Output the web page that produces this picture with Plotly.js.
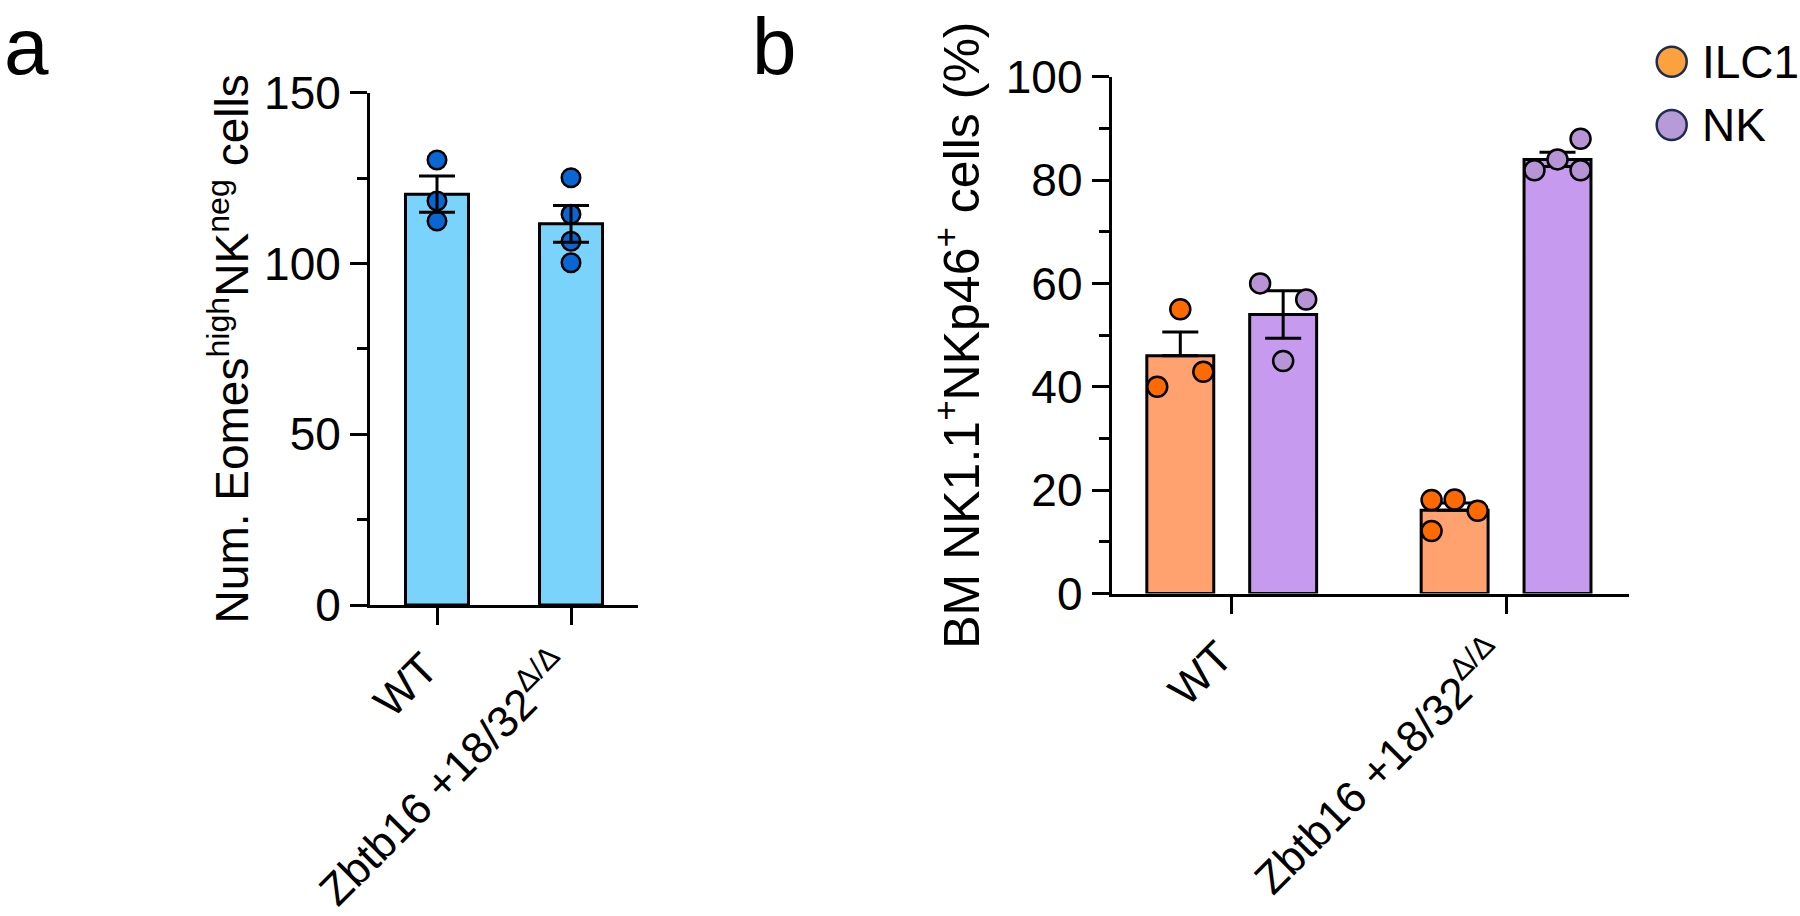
<!DOCTYPE html>
<html><head><meta charset="utf-8">
<script src="https://cdn.plot.ly/plotly-3.0.1.min.js"></script>
<style>html,body{margin:0;padding:0;background:#fff;} #chart{width:1800px;height:916px;}</style>
</head><body><div id="chart"></div>
<script>
// ---------------- data ----------------
const groups = ['WT', 'Zbtb16 +18/32<sup>Δ/Δ</sup>'];

// panel a: Num. Eomes-high NK-neg cells
const meanA = [120.3, 111.6];
const semA = [5.3, 5.4];
const dotsA_WT = [130.3, 118.3, 112.4];
const dotsA_KO = [125.1, 114.4, 106.5, 100.2];

// panel b: BM NK1.1+ NKp46+ cells (%)
const seriesB = ['ILC1', 'NK'];
const meanILC1 = [46.0, 16.1];
const semILC1 = [4.6, 1.4];
const meanNK = [54.0, 84.0];
const semNK = [4.6, 1.4];
const dotsILC1_WT = [40.0, 55.0, 42.9];
const dotsILC1_KO = [18.1, 18.2, 16.0, 12.1];
const dotsNK_WT = [60.0, 45.0, 56.9];
const dotsNK_KO = [81.9, 84.0, 81.9, 88.0];

// ---------------- layout / style helpers ----------------
const FONT = 'Liberation Sans, Arial, sans-serif';
const W = 1800, H = 916;
const shiftB = [-0.1875, 0.1875];     // side-by-side placement within a group
const jitterStep = 0.084;             // horizontal spread of overlapping dots
const jitILC1_WT = [-1, 0, 1], jitILC1_KO = [-1, 0, 1, -1];
const jitNK_WT = [-1, 0, 1],  jitNK_KO = [-1, 0, 1, 1];

function pos(groupIdx, shift, jit) { return groupIdx + shift + jit * jitterStep; }
function dotX(vals, g, shift, jit) { return vals.map((v, i) => pos(g, shift, jit ? jit[i] : 0)); }

const colA = {bar: '#7AD3FB', dot: '#0A66D2'};
const colB = {barILC1: '#FFA270', barNK: '#C69AEE', dotILC1: '#FF6A00', dotNK: '#B794D6',
              legILC1: '#FBA23F', legNK: '#B79AD8', legLine: '#1E2D4D'};

const barLine = {color: '#000', width: 3};
const dotLine = {color: '#000', width: 2.5};

const traces = [];

// panel a
traces.push({type: 'bar', x: [0, 1], y: meanA, width: 0.47, xaxis: 'x', yaxis: 'y',
  marker: {color: colA.bar, line: barLine}, showlegend: false, hoverinfo: 'skip'});
traces.push({type: 'scatter', mode: 'markers', xaxis: 'x', yaxis: 'y', showlegend: false,
  x: dotX(dotsA_WT, 0, 0).concat(dotX(dotsA_KO, 1, 0)), y: dotsA_WT.concat(dotsA_KO),
  marker: {size: 18.5, color: colA.dot, line: dotLine}, cliponaxis: false});
traces.push({type: 'scatter', mode: 'markers', xaxis: 'x', yaxis: 'y', showlegend: false,
  x: [0, 1], y: meanA, marker: {size: 1, color: 'rgba(0,0,0,0)'},
  error_y: {type: 'data', array: semA, visible: true, color: '#000', thickness: 3, width: 18}});

// panel b bars
traces.push({type: 'bar', name: seriesB[0], x: [0, 1].map(g => pos(g, shiftB[0], 0)), y: meanILC1,
  width: 0.244, xaxis: 'x2', yaxis: 'y2', marker: {color: colB.barILC1, line: barLine}, showlegend: false,
  error_y: {type: 'data', symmetric: false, array: semILC1, arrayminus: [0, 0], visible: true,
            color: '#000', thickness: 3, width: 18}});
traces.push({type: 'bar', name: seriesB[1], x: [0, 1].map(g => pos(g, shiftB[1], 0)), y: meanNK,
  width: 0.244, xaxis: 'x2', yaxis: 'y2', marker: {color: colB.barNK, line: barLine}, showlegend: false,
  error_y: {type: 'data', array: semNK, visible: true, color: '#000', thickness: 3, width: 18}});
// panel b dots
traces.push({type: 'scatter', mode: 'markers', xaxis: 'x2', yaxis: 'y2', showlegend: false, cliponaxis: false,
  x: dotX(dotsILC1_WT, 0, shiftB[0], jitILC1_WT).concat(dotX(dotsILC1_KO, 1, shiftB[0], jitILC1_KO)),
  y: dotsILC1_WT.concat(dotsILC1_KO), marker: {size: 20, color: colB.dotILC1, line: dotLine}});
traces.push({type: 'scatter', mode: 'markers', xaxis: 'x2', yaxis: 'y2', showlegend: false, cliponaxis: false,
  x: dotX(dotsNK_WT, 0, shiftB[1], jitNK_WT).concat(dotX(dotsNK_KO, 1, shiftB[1], jitNK_KO)),
  y: dotsNK_WT.concat(dotsNK_KO), marker: {size: 20, color: colB.dotNK, line: dotLine}});

function yAx(domain, range, dtick, minorDtick, title, titleSize, standoff, xanchor) {
  return {domain: domain, range: range, anchor: xanchor, showline: true, linewidth: 3, linecolor: '#000',
    ticks: 'outside', ticklen: 17, tickwidth: 3, tickcolor: '#000', dtick: dtick, tick0: 0,
    showgrid: false, zeroline: false, fixedrange: true,
    tickfont: {family: FONT, size: 46, color: '#000'},
    minor: {dtick: minorDtick, ticks: 'outside', ticklen: 10, tickwidth: 3, tickcolor: '#000', showgrid: false},
    title: {text: title, standoff: standoff, font: {family: FONT, size: titleSize, color: '#000'}}};
}
function xAx(domain, range, yanchor) {
  return {domain: domain, range: range, anchor: yanchor, showline: true, linewidth: 3, linecolor: '#000',
    tickmode: 'array', tickvals: [0, 1], ticktext: groups, tickangle: -45,
    ticklabelshift: -12, ticklabelstandoff: 0,
    ticks: 'outside', ticklen: 17, tickwidth: 3, tickcolor: '#000',
    showgrid: false, zeroline: false, fixedrange: true,
    tickfont: {family: FONT, size: 44, color: '#000'}};
}

const layout = {
  width: W, height: H, margin: {l: 0, r: 0, t: 0, b: 0},
  paper_bgcolor: '#fff', plot_bgcolor: 'rgba(0,0,0,0)', showlegend: false,
  barmode: 'overlay',
  xaxis: xAx([370 / W, 638 / W], [-0.5, 1.5], 'y'),
  yaxis: yAx([1 - 605 / H, 1 - 92.7 / H], [0, 150], 50, 25,
             'Num. Eomes<sup>high</sup>NK<sup>neg</sup> cells', 46, 1, 'x'),
  xaxis2: xAx([1111.7 / W, 1628.7 / W], [-0.4375, 1.447], 'y2'),
  yaxis2: yAx([1 - 593.5 / H, 1 - 76.7 / H], [0, 100], 20, 10,
              'BM NK1.1<sup>+</sup>NKp46<sup>+</sup> cells (%)', 50, 11, 'x2'),
  shapes: [
    {type: 'circle', xref: 'paper', yref: 'paper', xsizemode: 'pixel', ysizemode: 'pixel',
     xanchor: 1671.7 / W, yanchor: 1 - 61.7 / H, x0: -15, x1: 15, y0: -15, y1: 15,
     fillcolor: colB.legILC1, line: {color: colB.legLine, width: 2.5}},
    {type: 'circle', xref: 'paper', yref: 'paper', xsizemode: 'pixel', ysizemode: 'pixel',
     xanchor: 1671.7 / W, yanchor: 1 - 125 / H, x0: -15, x1: 15, y0: -15, y1: 15,
     fillcolor: colB.legNK, line: {color: colB.legLine, width: 2.5}}
  ],
  annotations: [
    {text: seriesB[0], xref: 'paper', yref: 'paper', x: 1700 / W, y: 1 - 61.7 / H, xanchor: 'left', yanchor: 'middle',
     showarrow: false, font: {family: FONT, size: 46, color: '#000'}},
    {text: seriesB[1], xref: 'paper', yref: 'paper', x: 1700 / W, y: 1 - 125 / H, xanchor: 'left', yanchor: 'middle',
     showarrow: false, font: {family: FONT, size: 46, color: '#000'}},
    {text: 'a', xref: 'paper', yref: 'paper', x: 2 / W, y: 1, xanchor: 'left', yanchor: 'top',
     showarrow: false, font: {family: FONT, size: 80, color: '#000'}},
    {text: 'b', xref: 'paper', yref: 'paper', x: 750 / W, y: 1, xanchor: 'left', yanchor: 'top',
     showarrow: false, font: {family: FONT, size: 80, color: '#000'}}
  ]
};

Plotly.newPlot('chart', traces, layout, {displayModeBar: false, staticPlot: true});
</script>
</body></html>
